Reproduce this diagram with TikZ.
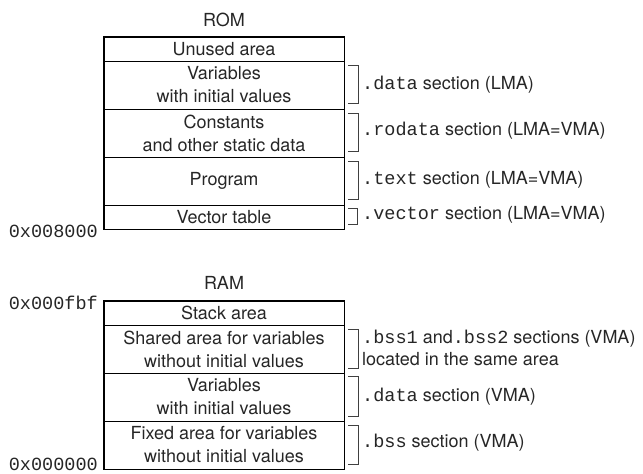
\documentclass[tikz,border=0pt]{standalone}
\usepackage{fontspec}
\setmainfont{TeX Gyre Heros}
\setmonofont[Scale=1.03]{Liberation Mono}
\newcommand{\mainsize}{\fontsize{18}{23}\selectfont}
\begin{document}
\begin{tikzpicture}[x=1pt,y=-1pt,
  row/.style={draw, line width=0.8pt, minimum width=240pt, inner sep=0pt, align=center, font=\mainsize, text=black!85},
  outline/.style={draw, line width=1.1pt},
  brk/.style={draw=black!75, line width=0.7pt},
  lbl/.style={anchor=west, inner sep=0pt, align=left, font=\mainsize, text=black!85},
  addr/.style={anchor=east, inner sep=0pt, font=\mainsize\ttfamily, text=black!85},
  title/.style={inner sep=0pt, font=\mainsize, text=black!85}]
\useasboundingbox (0,0) rectangle (643,474);
% ROM
\node[title] (romt) at (224,20) {ROM};
\node[row, minimum height=24pt] (r1) at (224,49) {Unused area};
\node[row, minimum height=48pt] (r2) at (224,85) {Variables\\with initial values};
\node[row, minimum height=48pt] (r3) at (224,133) {Constants\\and other static data};
\node[row, minimum height=48pt] (r4) at (224,181) {Program};
\node[row, minimum height=24pt] (r5) at (224,217) {Vector table};
\draw[outline] (r1.north west) rectangle (r5.south east);
\node[addr] (a1) at (98,231) {0x008000};
% ROM brackets
\draw[brk] ([xshift=4pt,yshift=-5pt]r2.north east) -| ([xshift=14pt,yshift=6pt]r2.south east) -- ([xshift=4pt,yshift=6pt]r2.south east);
\draw[brk] ([xshift=4pt,yshift=-5pt]r3.north east) -| ([xshift=14pt,yshift=6pt]r3.south east) -- ([xshift=4pt,yshift=6pt]r3.south east);
\draw[brk] ([xshift=4pt,yshift=-5pt]r4.north east) -| ([xshift=14pt,yshift=6pt]r4.south east) -- ([xshift=4pt,yshift=6pt]r4.south east);
\draw[brk] ([xshift=4pt,yshift=-4pt]r5.north east) -| ([xshift=13pt,yshift=5pt]r5.south east) -- ([xshift=4pt,yshift=5pt]r5.south east);
\node[lbl] (l2) at (362,85) {\texttt{.data} section (LMA)};
\node[lbl] (l3) at (362,131) {\texttt{.rodata} section (LMA=VMA)};
\node[lbl] (l4) at (362,180) {\texttt{.text} section (LMA=VMA)};
\node[lbl] (l5) at (362,215) {\texttt{.vector} section (LMA=VMA)};
% RAM
\node[title] (ramt) at (224,283) {RAM};
\node[row, minimum height=24pt] (s1) at (224,313) {Stack area};
\node[row, minimum height=48pt] (s2) at (224,349) {Shared area for variables\\without initial values};
\node[row, minimum height=48pt] (s3) at (224,397) {Variables\\with initial values};
\node[row, minimum height=48pt] (s4) at (224,445) {Fixed area for variables\\without initial values};
\draw[outline] (s1.north west) rectangle (s4.south east);
\node[addr] (a2) at (98,302.5) {0x000fbf};
\node[addr] (a3) at (98,464) {0x000000};
% RAM brackets
\draw[brk] ([xshift=4pt,yshift=-5pt]s2.north east) -| ([xshift=14pt,yshift=5pt]s2.south east) -- ([xshift=4pt,yshift=5pt]s2.south east);
\draw[brk] ([xshift=4pt,yshift=-4pt]s3.north east) -| ([xshift=14pt,yshift=5pt]s3.south east) -- ([xshift=4pt,yshift=5pt]s3.south east);
\draw[brk] ([xshift=4pt,yshift=-5pt]s4.north east) -| ([xshift=14pt,yshift=5pt]s4.south east) -- ([xshift=4pt,yshift=5pt]s4.south east);
\node[lbl, font=\fontsize{18}{22}\selectfont] (m2) at (362,348) {\texttt{.bss1} and\texttt{.bss2} sections (VMA)\\located in the same area};
\node[lbl] (m3) at (362,397) {\texttt{.data} section (VMA)};
\node[lbl] (m4) at (362,443) {\texttt{.bss} section (VMA)};
\end{tikzpicture}
\end{document}
